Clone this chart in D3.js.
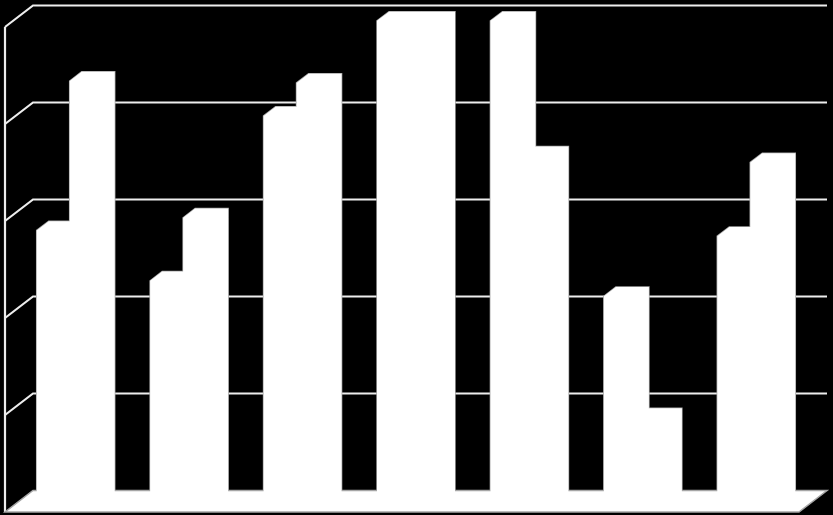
<!DOCTYPE html>
<html>
<head>
<meta charset="utf-8">
<script src="https://cdn.jsdelivr.net/npm/d3@7"></script>
<style>
  html, body { margin: 0; padding: 0; background: #000; }
  svg { display: block; }
</style>
</head>
<body>
<svg width="833" height="515"></svg>
<script>
/**************************  DATA **************************/
var categories = ["1", "2", "3", "4", "5", "6", "7"];
var seriesNames = ["A", "B"];
var seriesA = [28.4, 23.2, 40.2, 50, 50, 21.6, 27.8];
var seriesB = [43.8, 29.7, 43.6, 50, 36.1, 9.1, 35.4];
var yTicks = [0, 10, 20, 30, 40, 50];

/**************************  3D DIMENSIONS **************************/
var W = 833, H = 515;
var x_left = 5, x_right = 799;   // front plane
var y_bottom = 512, y_top = 27;  // front plane
var DX = 28, DY = 21.5;          // full depth offset (back wall)
var bar_d0 = 0.285, bar_d1 = 0.715; // bars sit in the middle of the depth

var x0 = d3.scaleBand().domain(categories).range([x_left, x_right]).padding(0);
var x1 = d3.scaleBand().domain(seriesNames).range([0, x0.bandwidth()])
  .paddingInner(0).paddingOuter(0.72);
var y = d3.scaleLinear().domain([0, 50]).range([y_bottom, y_top]);

//project a point (front x, value, depth fraction) to the screen
var proj = function(x, v, d) {
  return [x + DX*d, y(v) - DY*d];
};

var straightLine = d3.line();
var svg = d3.select("svg");

svg.append("rect").attr("width", W).attr("height", H).attr("fill", "#000");

/**************************  WALLS **************************/
var grid = svg.append("g")
  .attr("fill", "none")
  .attr("stroke", "#ededed")
  .attr("stroke-width", 2.2);

yTicks.forEach(function(t) {
  if (t === 0) return; // floor edge drawn below
  grid.append("path").attr("d", straightLine([
    proj(x_left, t, 0), proj(x_left, t, 1), proj(x_right, t, 1)
  ]));
});

// left wall front edge
grid.append("path").attr("d", straightLine([
  proj(x_left, 0, 0), proj(x_left, 50, 0)
]));

/**************************  BARS **************************/
var bars = [];
categories.forEach(function(c, i) {
  [seriesA[i], seriesB[i]].forEach(function(v, j) {
    var xl = x0(c) + x1(seriesNames[j]);
    var xr = xl + x1.bandwidth();
    var dd = bar_d1 - bar_d0;
    var f = function(px, pv, pd) { return proj(px, pv, bar_d0 + pd*dd); };
    // silhouette of the prism: front face + top + right side
    bars.push([
      f(xl, 0, 0), f(xl, v, 0), f(xl, v, 1), f(xr, v, 1), f(xr, 0, 1), f(xr, 0, 0)
    ]);
  });
});

// outlines first, then floor, then fills on top so only outer edges show
svg.append("g").selectAll("path").data(bars).join("path")
  .attr("d", function(d) { return straightLine(d) + "Z"; })
  .attr("fill", "#fff")
  .attr("stroke", "#a6a6a6")
  .attr("stroke-width", 1.5);

svg.append("path")
  .attr("d", straightLine([
    proj(x_left, 0, 0), proj(x_right, 0, 0), proj(x_right, 0, 1), proj(x_left, 0, 1)
  ]) + "Z")
  .attr("fill", "#fff")
  .attr("stroke", "#a6a6a6")
  .attr("stroke-width", 1.5);

svg.append("g").selectAll("path").data(bars).join("path")
  .attr("d", function(d) { return straightLine(d) + "Z"; })
  .attr("fill", "#fff");
</script>
</body>
</html>
